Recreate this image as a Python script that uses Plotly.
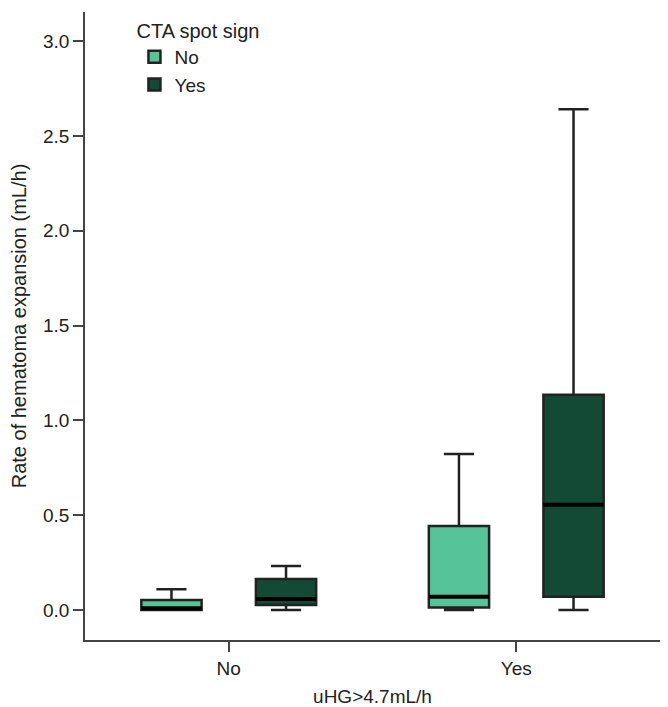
import plotly.graph_objects as go

groups = ["No", "Yes"]  # uHG>4.7mL/h
cta_no_lower = [0.0, 0.0]
cta_no_q1 = [0.0, 0.014]
cta_no_median = [0.01, 0.07]
cta_no_q3 = [0.053, 0.443]
cta_no_upper = [0.11, 0.822]

cta_yes_lower = [0.0, 0.0]
cta_yes_q1 = [0.026, 0.07]
cta_yes_median = [0.058, 0.555]
cta_yes_q3 = [0.163, 1.135]
cta_yes_upper = [0.232, 2.64]

series = [
    ("No", "#57C399", cta_no_lower, cta_no_q1, cta_no_median, cta_no_q3, cta_no_upper),
    ("Yes", "#124A36", cta_yes_lower, cta_yes_q1, cta_yes_median, cta_yes_q3, cta_yes_upper),
]

fig = go.Figure()
for name, color, lo, q1, med, q3, hi in series:
    fig.add_trace(go.Box(
        name=name, x=groups, q1=q1, median=med, q3=q3,
        lowerfence=lo, upperfence=hi,
        fillcolor=color, line=dict(color="#222222", width=2.5),
        whiskerwidth=0.5, offsetgroup=name, boxpoints=False,
        hoverinfo="skip",
    ))
    # thicker median line overlay
    fig.add_trace(go.Box(
        name=name, x=groups, q1=med, median=med, q3=med,
        lowerfence=med, upperfence=med,
        fillcolor="black", line=dict(color="black", width=4),
        whiskerwidth=0, offsetgroup=name, boxpoints=False,
        showlegend=False, hoverinfo="skip",
    ))

fig.update_layout(
    width=668, height=707,
    margin=dict(l=85, r=8, t=12, b=67),
    paper_bgcolor="white", plot_bgcolor="white",
    boxmode="group", boxgap=0.203, boxgroupgap=0.474,
    font=dict(family="Liberation Sans, Arial, sans-serif", size=19, color="#222"),
    legend=dict(
        title=dict(text="CTA spot sign", font=dict(size=20)),
        x=0.086, y=1.0, xanchor="left", yanchor="top",
        font=dict(size=19), bgcolor="rgba(0,0,0,0)",
        tracegroupgap=0,
    ),
    xaxis=dict(
        title=dict(text="uHG>4.7mL/h", font=dict(size=19), standoff=15),
        automargin=False,
        type="category", categoryorder="array", categoryarray=groups,
        showline=True, linecolor="#444", linewidth=1.5,
        ticks="outside", ticklen=10, tickcolor="#444", tickwidth=1.5,
        showgrid=False, zeroline=False,
    ),
    yaxis=dict(
        title=dict(text="Rate of hematoma expansion (mL/h)", font=dict(size=20), standoff=11),
        automargin=False,
        range=[-0.158, 3.153], tickvals=[0, 0.5, 1.0, 1.5, 2.0, 2.5, 3.0],
        tickformat=".1f",
        showline=True, linecolor="#444", linewidth=1.5,
        ticks="outside", ticklen=10, tickcolor="#444", tickwidth=1.5,
        showgrid=False, zeroline=False,
    ),
)

fig.write_html("out.html", config={"displayModeBar": False},
               post_script="document.body.style.margin='0';")
